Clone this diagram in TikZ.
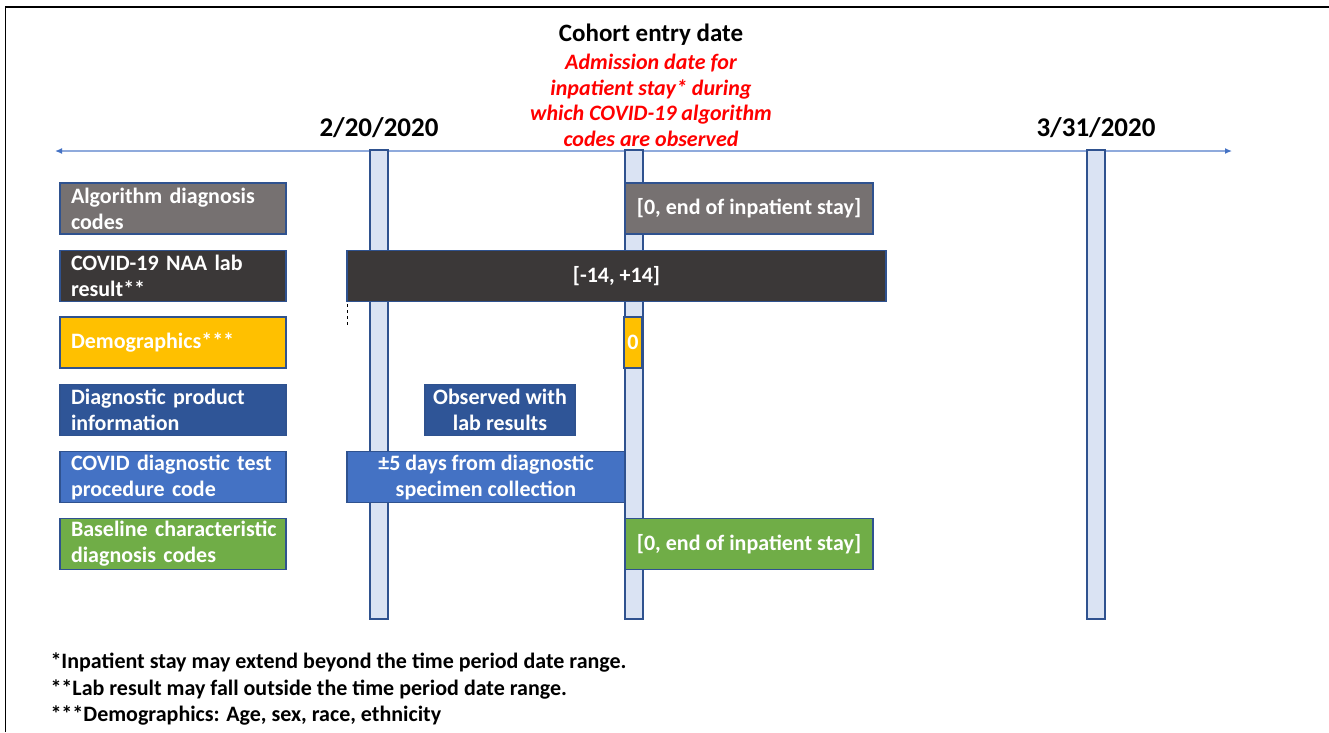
\documentclass[tikz,border=0pt]{standalone}
\usepackage{fontspec}
\setmainfont{Carlito}
\usetikzlibrary{arrows.meta}

\definecolor{algogray}{HTML}{767171}
\definecolor{labdark}{HTML}{3B3838}
\definecolor{demoyellow}{HTML}{FFC000}
\definecolor{proddark}{HTML}{2F5597}
\definecolor{procblue}{HTML}{4472C4}
\definecolor{basegreen}{HTML}{70AD47}
\definecolor{barfill}{HTML}{DAE3F3}
\definecolor{boxline}{HTML}{2F528F}
\definecolor{axisline}{HTML}{8FAADC}

\tikzset{
	txt/.style={font=\bfseries\fontsize{22}{26}\selectfont},
	box/.style={txt, draw=boxline, line width=1.2pt, text=white, inner sep=0pt, minimum height=51pt},
	leftbox/.style={box, minimum width=226pt, text width=214pt, align=left, execute at begin node={\leftskip=5pt\relax}},
	rbox/.style={box, align=center},
	bar/.style={fill=barfill, draw=boxline, line width=1.2pt},
	timeline/.style={draw=axisline, line width=1.3pt, {Latex[length=7pt,width=6pt,color=procblue]}-{Latex[length=7pt,width=6pt,color=procblue]}},
	datelbl/.style={font=\bfseries\fontsize{27}{32}\selectfont}
}

\begin{document}
\begin{tikzpicture}[x=1pt, y=-1pt]
	\useasboundingbox (0,0) rectangle (1329,732);
	\draw[line width=1.5pt] (5.5,732) -- (5.5,7) -- (1329,7);

	% time axis
	\coordinate (tl) at (55,151);
	\coordinate (tr) at (1232,151);
	\draw[timeline] (tl) -- (tr);

	\filldraw[bar] (370,150) rectangle (388,619);
	\filldraw[bar] (625,150) rectangle (643,619);
	\filldraw[bar] (1087,150) rectangle (1105,619);

	\node[datelbl] (start) at (379,128) {2/20/2020};
	\node[datelbl] (stop) at (1096,128) {3/31/2020};
	\node[txt, font=\bfseries\fontsize{25}{30}\selectfont] (entry) at (651,35) {Cohort entry date};
	\node[txt, text=red, font=\bfseries\itshape\fontsize{22}{25.5}\selectfont, align=center] (admit) at (651,100.5)
		{Admission date for\\inpatient stay* during\\which COVID-19 algorithm\\codes are observed};

	% left labels
	\node[leftbox, fill=algogray] (algo) at (173,208.5) {Algorithm diagnosis\\codes};
	\node[leftbox, fill=labdark] (lab) at (173,276) {COVID-19 NAA lab\\result**};
	\node[leftbox, fill=demoyellow] (demo) at (173,342.5) {Demographics***};
	\node[leftbox, fill=proddark] (prod) at (173,410) {Diagnostic product\\information};
	\node[leftbox, fill=procblue] (proc) at (173,477) {COVID diagnostic test\\procedure code};
	\node[leftbox, fill=basegreen] (base) at (173,544) {Baseline characteristic\\diagnosis codes};

	% windows
	\draw[dashed, line width=0.6pt] (347,262) -- (347,327);
	\node[rbox, fill=algogray, minimum width=248pt] (algowin) at (749,208.5) {[0, end of inpatient stay]};
	\node[rbox, fill=labdark, minimum width=539pt] (labwin) at (616.5,276) {[-14, +14]};
	\node[rbox, fill=demoyellow, minimum width=18pt] (demowin) at (633,342.5) {0};
	\node[rbox, fill=proddark, minimum width=150pt] (prodwin) at (500,410) {Observed with\\lab results};
	\node[rbox, fill=procblue, minimum width=278pt] (procwin) at (486,477) {±5 days from diagnostic\\specimen collection};
	\node[rbox, fill=basegreen, minimum width=248pt] (basewin) at (749,544) {[0, end of inpatient stay]};

	% footnotes
	\node[txt, anchor=west, align=left, font=\bfseries\fontsize{22}{26.5}\selectfont] (notes) at (47,689)
		{*Inpatient stay may extend beyond the time period date range.\\
		**Lab result may fall outside the time period date range.\\
		***Demographics: Age, sex, race, ethnicity};
\end{tikzpicture}
\end{document}
